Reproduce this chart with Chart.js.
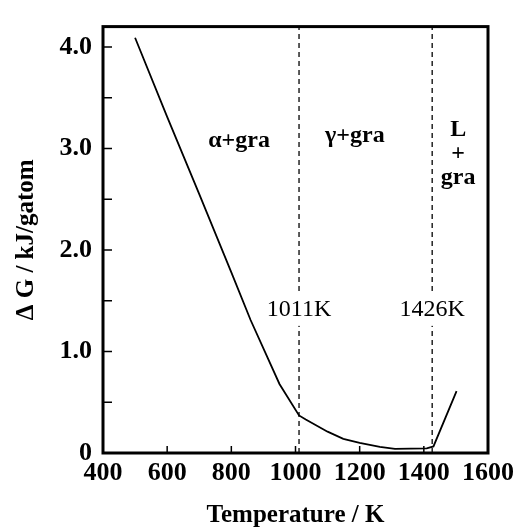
<!DOCTYPE html>
<html lang="en">
<head>
    <meta charset="UTF-8">
    <title>Delta G vs Temperature</title>
    <style>
        body { margin: 0; background: #fff; }
    </style>
</head>
<body>
    <canvas id="myChart" width="522" height="531"></canvas>

    <script src="https://cdn.jsdelivr.net/npm/chart.js"></script>
    <script>
        // curve (K, kJ/gatom)
        const temps = [500, 600, 700, 800, 860, 950, 1011, 1032, 1100, 1149, 1200, 1263, 1310, 1409, 1430, 1502];
        const deltaG = [4.09, 3.31, 2.55, 1.78, 1.31, 0.68, 0.37, 0.33, 0.21, 0.14, 0.10, 0.06, 0.04, 0.045, 0.065, 0.61];

        // phase boundaries
        const transitionT = [1011, 1426];
        const transitionLabels = ['1011K', '1426K'];
        const transitionLabelG = 1.41;

        // phase field labels
        const regionText = ['α+gra', 'γ+gra', 'L', '+', 'gra'];
        const regionT = [824, 1185, 1507, 1507, 1507];
        const regionG = [3.08, 3.12, 3.18, 2.95, 2.71];

        const xTicks = [400, 600, 800, 1000, 1200, 1400, 1600];
        const yMax = 4.2;

        const serif = '"Liberation Serif", "Times New Roman", serif';

        const curve = temps.map((t, i) => ({ x: t, y: deltaG[i] }));
        const boundaryDatasets = transitionT.map(t => ({
            data: [{ x: t, y: 0 }, { x: t, y: yMax }],
            borderColor: '#000',
            borderWidth: 1.3,
            borderDash: [5, 4],
            pointRadius: 0
        }));

        // labels, inward ticks and frame
        const decorations = {
            id: 'decorations',
            afterDatasetsDraw(chart) {
                const ctx = chart.ctx;
                const xs = chart.scales.x;
                const ys = chart.scales.y;
                const area = chart.chartArea;
                ctx.save();
                ctx.fillStyle = '#000';
                ctx.textAlign = 'center';
                ctx.textBaseline = 'middle';

                // boundary temperatures, white box breaks the dashed line
                ctx.font = '24px ' + serif;
                transitionLabels.forEach((txt, i) => {
                    const px = xs.getPixelForValue(transitionT[i]);
                    const py = ys.getPixelForValue(transitionLabelG);
                    const w = ctx.measureText(txt).width;
                    ctx.fillStyle = '#fff';
                    ctx.fillRect(px - w / 2 - 2, py - 16, w + 4, 32);
                    ctx.fillStyle = '#000';
                    ctx.fillText(txt, px, py);
                });

                ctx.font = 'bold 24px ' + serif;
                regionText.forEach((txt, i) => {
                    const px = xs.getPixelForValue(regionT[i]);
                    const py = ys.getPixelForValue(regionG[i]);
                    const w = ctx.measureText(txt).width;
                    ctx.fillStyle = '#fff';
                    ctx.fillRect(px - w / 2 - 2, py - 12, w + 4, 24);
                    ctx.fillStyle = '#000';
                    ctx.fillText(txt, px, py);
                });

                ctx.strokeStyle = '#000';
                ctx.lineWidth = 1.5;
                ctx.beginPath();
                ys.ticks.forEach(t => {
                    if (t.value <= 0) return;
                    const py = ys.getPixelForValue(t.value);
                    ctx.moveTo(area.left, py);
                    ctx.lineTo(area.left + 9, py);
                });
                xs.ticks.forEach(t => {
                    if (t.value <= xs.min || t.value >= xs.max) return;
                    const px = xs.getPixelForValue(t.value);
                    ctx.moveTo(px, area.bottom);
                    ctx.lineTo(px, area.bottom - 7);
                });
                ctx.stroke();

                ctx.lineWidth = 3;
                ctx.strokeRect(area.left, area.top, area.right - area.left, area.bottom - area.top);
                ctx.restore();
            }
        };

        new Chart(document.getElementById('myChart').getContext('2d'), {
            type: 'line',
            data: {
                datasets: [{
                    data: curve,
                    borderColor: '#000',
                    borderWidth: 1.8,
                    pointRadius: 0,
                    tension: 0
                }, ...boundaryDatasets]
            },
            options: {
                responsive: false,
                animation: false,
                layout: { padding: { top: 10, right: 34, left: 0, bottom: 0 } },
                plugins: {
                    legend: { display: false },
                    tooltip: { enabled: false }
                },
                scales: {
                    x: {
                        type: 'linear',
                        min: 400,
                        max: 1600,
                        grid: { display: false, drawTicks: false },
                        border: { display: false },
                        afterBuildTicks: s => { s.ticks = xTicks.map(v => ({ value: v })); },
                        ticks: {
                            color: '#000',
                            padding: 5,
                            maxRotation: 0,
                            autoSkip: false,
                            font: { family: serif, size: 26, weight: 'bold' },
                            callback: v => String(v)
                        },
                        title: {
                            display: true,
                            text: 'Temperature / K',
                            color: '#000',
                            padding: { top: 0, bottom: 0 },
                            font: { family: serif, size: 25, weight: 'bold' }
                        },
                        afterFit: s => { s.height = 78; }
                    },
                    y: {
                        min: 0,
                        max: yMax,
                        grid: { display: false, drawTicks: false },
                        border: { display: false },
                        ticks: {
                            stepSize: 0.5,
                            includeBounds: false,
                            autoSkip: false,
                            color: '#000',
                            padding: 11,
                            font: { family: serif, size: 26, weight: 'bold' },
                            callback: v => v === 0 ? '0' : (Number.isInteger(v) ? v.toFixed(1) : '')
                        },
                        title: {
                            display: true,
                            text: 'Δ G / kJ/gatom',
                            color: '#000',
                            padding: { top: 12, bottom: 0 },
                            font: { family: serif, size: 25, weight: 'bold' }
                        },
                        afterFit: s => { s.width = 103; }
                    }
                }
            },
            plugins: [decorations]
        });
    </script>
</body>
</html>
